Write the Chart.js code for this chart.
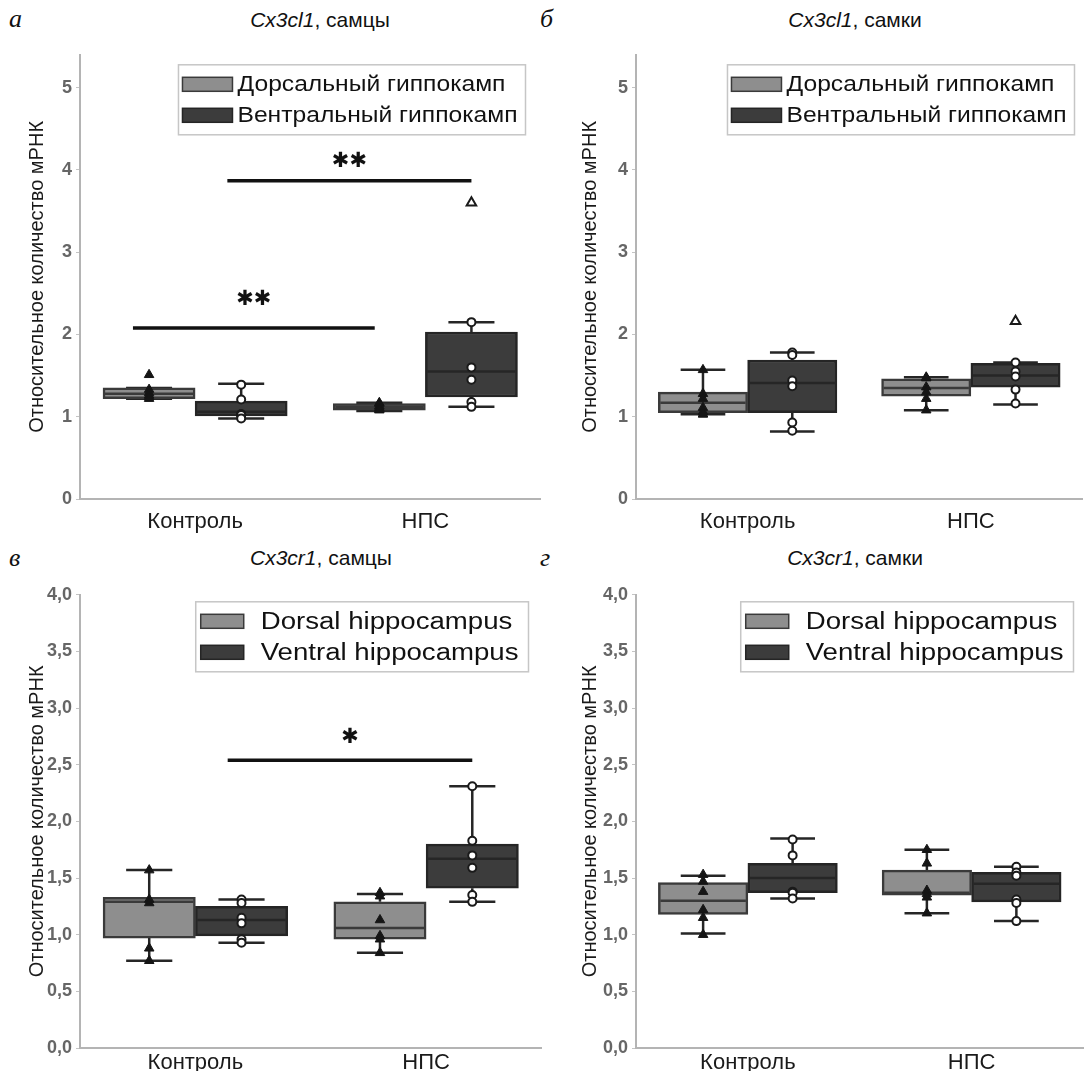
<!DOCTYPE html>
<html>
<head>
<meta charset="utf-8">
<script src="https://cdn.jsdelivr.net/npm/chart.js@4.4.1/dist/chart.umd.min.js"></script>
<style>
  body { margin: 0; background: #fff; width: 1090px; height: 1071px; position: relative; overflow: hidden; font-family: "Liberation Sans", Arial, sans-serif; }
  .panel { position: absolute; }
  .letter { position: absolute; font-family: "Liberation Serif", "DejaVu Serif", serif; font-style: italic; font-size: 26px; color: #111; line-height: 26px; }
  .title { position: absolute; font-size: 21px; color: #111; transform: translateX(-50%); white-space: nowrap; line-height: 24px; }
</style>
</head>
<body>
<div class="letter" style="left:9px;top:6px">а</div>
<div class="title" style="left:320px;top:8px"><i>Cx3cl1</i>, самцы</div>
<div class="letter" style="left:540px;top:6px">б</div>
<div class="title" style="left:855px;top:8px"><i>Cx3cl1</i>, самки</div>
<div class="letter" style="left:9px;top:545px">в</div>
<div class="title" style="left:321px;top:546px"><i>Cx3cr1</i>, самцы</div>
<div class="letter" style="left:540px;top:545px">г</div>
<div class="title" style="left:855px;top:546px"><i>Cx3cr1</i>, самки</div>

<div class="panel" style="left:0;top:40px;width:548px;height:505px"><canvas id="chartA"></canvas></div>
<div class="panel" style="left:553px;top:40px;width:537px;height:505px"><canvas id="chartB"></canvas></div>
<div class="panel" style="left:0;top:580px;width:548px;height:491px"><canvas id="chartC"></canvas></div>
<div class="panel" style="left:553px;top:580px;width:537px;height:491px"><canvas id="chartD"></canvas></div>

<script>
const categories = ['Контроль', 'НПС']
const legendRu = ['Дорсальный гиппокамп', 'Вентральный гиппокамп']
const legendEn = ['Dorsal hippocampus', 'Ventral hippocampus']
const yTicksTop = [0, 1, 2, 3, 4, 5]
const yTicksBottom = [0, 0.5, 1, 1.5, 2, 2.5, 3, 3.5, 4]

// box stats per category: [min, q1, median, q3, max]
// а: Cx3cl1, males
const aDorsalStats = [[1.22, 1.22, 1.28, 1.35, 1.35], [1.07, 1.08, 1.12, 1.16, 1.17]]
const aVentralStats = [[0.98, 1.01, 1.06, 1.19, 1.40], [1.12, 1.24, 1.55, 2.03, 2.15]]
const aDorsalPoints = [[1.33, 1.29, 1.26, 1.24, 1.22], [1.17, 1.16, 1.13, 1.11, 1.09, 1.08]]
const aVentralPoints = [[1.39, 1.21, 1.03, 1.03, 1.02, 0.98], [2.15, 1.60, 1.45, 1.18, 1.12]]
const aDorsalOutliers = [[1.51], []]
const aVentralOutliers = [[], [3.60]]
const aSigFrom = [-0.27, 0.14]
const aSigTo = [0.78, 1.2]
const aSigY = [2.08, 3.87]
const aSigTextY = [2.42, 4.1]
const aSigText = ['✱✱', '✱✱']

// б: Cx3cl1, females
const bDorsalStats = [[1.03, 1.05, 1.17, 1.30, 1.57], [1.08, 1.25, 1.35, 1.46, 1.48]]
const bVentralStats = [[0.82, 1.05, 1.41, 1.69, 1.78], [1.15, 1.36, 1.50, 1.65, 1.66]]
const bDorsalPoints = [[1.57, 1.28, 1.22, 1.11, 1.06, 1.03, 1.03], [1.48, 1.47, 1.36, 1.30, 1.22, 1.08]]
const bVentralPoints = [[1.78, 1.75, 1.44, 1.37, 0.93, 0.83], [1.66, 1.55, 1.49, 1.33, 1.16]]
const bDorsalOutliers = [[], []]
const bVentralOutliers = [[], [2.16]]

// в: Cx3cr1, males
const cDorsalStats = [[0.77, 0.97, 1.29, 1.33, 1.57], [0.84, 0.96, 1.06, 1.29, 1.36]]
const cVentralStats = [[0.93, 0.99, 1.13, 1.25, 1.31], [1.29, 1.41, 1.67, 1.80, 2.31]]
const cDorsalPoints = [[1.57, 1.31, 1.28, 0.88, 0.77], [1.37, 1.34, 1.13, 0.99, 0.96, 0.84]]
const cVentralPoints = [[1.31, 1.28, 1.15, 1.10, 0.96, 0.93], [2.31, 1.83, 1.70, 1.59, 1.35, 1.29]]
const cSigFrom = [0.14]
const cSigTo = [1.2]
const cSigY = [2.54]
const cSigTextY = [2.74]
const cSigText = ['✱']

// г: Cx3cr1, females
const dDorsalStats = [[1.01, 1.18, 1.30, 1.46, 1.52], [1.19, 1.35, 1.37, 1.57, 1.75]]
const dVentralStats = [[1.32, 1.37, 1.50, 1.63, 1.85], [1.12, 1.29, 1.45, 1.55, 1.60]]
const dDorsalPoints = [[1.53, 1.47, 1.38, 1.22, 1.15, 1.00], [1.75, 1.63, 1.39, 1.36, 1.33, 1.19]]
const dVentralPoints = [[1.84, 1.70, 1.38, 1.37, 1.32], [1.60, 1.55, 1.52, 1.31, 1.28, 1.12]]

const FONT = '"Liberation Sans", Arial, sans-serif'
const dorsalFill = '#8e8e8e'
const dorsalEdge = '#3a3a3a'
const ventralFill = '#3c3c3c'
const ventralEdge = '#252525'
const SHIFT = 0.2 // dodge of the two boxes around a category

function toPoints (groups, shift) {
  return groups.flatMap((vals, i) => vals.map(v => ({ x: i + shift, y: v })))
}

function toBoxes (stats, shift) {
  return stats.map((s, i) => ({ x: i + shift, y: [s[1], s[3]] }))
}

const boxParts = {
  id: 'boxParts',
  beforeDatasetDraw (chart, args) {
    if (args.meta.type !== 'bar') return
    const ds = chart.data.datasets[args.index]
    const y = chart.scales.y
    const ctx = chart.ctx
    ctx.save()
    ctx.strokeStyle = '#262626'
    ctx.lineWidth = 2.5
    args.meta.data.forEach((bar, i) => {
      const s = ds.stats[i]
      const cap = bar.width / 4
      ctx.beginPath()
      ctx.moveTo(bar.x, y.getPixelForValue(s[3]))
      ctx.lineTo(bar.x, y.getPixelForValue(s[4]))
      ctx.moveTo(bar.x, y.getPixelForValue(s[1]))
      ctx.lineTo(bar.x, y.getPixelForValue(s[0]))
      ctx.moveTo(bar.x - cap, y.getPixelForValue(s[4]))
      ctx.lineTo(bar.x + cap, y.getPixelForValue(s[4]))
      ctx.moveTo(bar.x - cap, y.getPixelForValue(s[0]))
      ctx.lineTo(bar.x + cap, y.getPixelForValue(s[0]))
      ctx.stroke()
    })
    ctx.restore()
  },
  afterDatasetDraw (chart, args) {
    if (args.meta.type !== 'bar') return
    const ds = chart.data.datasets[args.index]
    const y = chart.scales.y
    const ctx = chart.ctx
    ctx.save()
    ctx.strokeStyle = ds.medianColor
    ctx.lineWidth = 2.5
    args.meta.data.forEach((bar, i) => {
      const py = y.getPixelForValue(ds.stats[i][2])
      ctx.beginPath()
      ctx.moveTo(bar.x - bar.width / 2 + 2, py)
      ctx.lineTo(bar.x + bar.width / 2 - 2, py)
      ctx.stroke()
    })
    ctx.restore()
  },
  afterDraw (chart, args, opts) {
    const ctx = chart.ctx
    const x = chart.scales.x
    const y = chart.scales.y
    ctx.save()
    ;(opts.sig || []).forEach(s => {
      ctx.strokeStyle = '#111'
      ctx.lineWidth = 3.5
      ctx.beginPath()
      ctx.moveTo(x.getPixelForValue(s.from), y.getPixelForValue(s.y))
      ctx.lineTo(x.getPixelForValue(s.to), y.getPixelForValue(s.y))
      ctx.stroke()
      ctx.fillStyle = '#111'
      ctx.font = 'bold 21px "DejaVu Sans", sans-serif'
      ctx.textAlign = 'center'
      ctx.textBaseline = 'middle'
      ctx.fillText(s.text, x.getPixelForValue((s.from + s.to) / 2), y.getPixelForValue(s.textY))
    })
    const lg = opts.legend
    if (lg) {
      const area = chart.chartArea
      ctx.font = lg.size + 'px ' + FONT
      const tw = lg.stretch * Math.max.apply(null, lg.texts.map(t => ctx.measureText(t).width))
      const w = lg.padL + lg.patchW + lg.gap + tw + lg.padR
      const h = lg.rowH * 2 + lg.padV * 2
      const x0 = area.right - lg.right - w
      const y0 = area.top + lg.top
      ctx.fillStyle = '#fff'
      ctx.fillRect(x0, y0, w, h)
      ctx.strokeStyle = '#c6c6c6'
      ctx.lineWidth = 1.5
      ctx.strokeRect(x0, y0, w, h)
      const fills = [dorsalFill, ventralFill]
      const edges = [dorsalEdge, ventralEdge]
      lg.texts.forEach((t, i) => {
        const cy = y0 + lg.padV + lg.rowH * (i + 0.5)
        ctx.fillStyle = fills[i]
        ctx.fillRect(x0 + lg.padL, cy - 7, lg.patchW, 14)
        ctx.strokeStyle = edges[i]
        ctx.lineWidth = 1.5
        ctx.strokeRect(x0 + lg.padL, cy - 7, lg.patchW, 14)
        ctx.save()
        ctx.translate(x0 + lg.padL + lg.patchW + lg.gap, cy + 1)
        ctx.scale(lg.stretch, 1)
        ctx.fillStyle = '#111'
        ctx.textAlign = 'left'
        ctx.textBaseline = 'middle'
        ctx.fillText(t, 0, 0)
        ctx.restore()
      })
    }
    ctx.restore()
  }
}

function sigList (from, to, ys, textYs, texts) {
  return from.map((f, i) => ({ from: f, to: to[i], y: ys[i], textY: textYs[i], text: texts[i] }))
}

function makeChart (id, p) {
  const datasets = [
    {
      type: 'bar', label: p.legend[0], data: toBoxes(p.dStats, -SHIFT), stats: p.dStats,
      backgroundColor: dorsalFill, borderColor: dorsalEdge, borderWidth: 2.5, borderSkipped: false,
      medianColor: '#3a3a3a', grouped: false, categoryPercentage: 1, barPercentage: 1, order: 3
    },
    {
      type: 'bar', label: p.legend[1], data: toBoxes(p.vStats, SHIFT), stats: p.vStats,
      backgroundColor: ventralFill, borderColor: ventralEdge, borderWidth: 2.5, borderSkipped: false,
      medianColor: '#262626', grouped: false, categoryPercentage: 1, barPercentage: 1, order: 3
    },
    {
      type: 'scatter', data: toPoints(p.dPoints, -SHIFT).concat(toPoints(p.dOut || [[], []], -SHIFT)),
      pointStyle: 'triangle', pointRadius: 5.5, backgroundColor: '#151515', borderColor: '#151515', borderWidth: 1, order: 1
    },
    {
      type: 'scatter', data: toPoints(p.vPoints, SHIFT),
      pointStyle: 'circle', pointRadius: 4, backgroundColor: '#fff', borderColor: '#1a1a1a', borderWidth: 2, order: 1
    },
    {
      type: 'scatter', data: toPoints(p.vOut || [[], []], SHIFT),
      pointStyle: 'triangle', pointRadius: 5.5, backgroundColor: '#fff', borderColor: '#1a1a1a', borderWidth: 2, order: 1
    }
  ]
  return new Chart(document.getElementById(id), {
    type: 'bar',
    data: { datasets: datasets },
    options: {
      responsive: true,
      maintainAspectRatio: false,
      animation: false,
      layout: { padding: { top: p.padTop, right: p.padRight, left: 0, bottom: 0 } },
      plugins: {
        legend: { display: false },
        tooltip: { enabled: false },
        boxParts: { sig: p.sig, legend: p.lg }
      },
      scales: {
        x: {
          type: 'linear',
          min: -0.5,
          max: 1.5,
          offset: false,
          afterBuildTicks: s => { s.ticks = categories.map((c, i) => ({ value: i })) },
          afterFit: s => { s.height = p.xHeight },
          ticks: { font: { size: 22, family: FONT }, color: '#1a1a1a', padding: p.xPad, callback: v => categories[v] },
          grid: { display: false, drawTicks: false, offset: false },
          border: { display: true, color: '#b4b4b4', width: 2 }
        },
        y: {
          min: 0,
          max: p.yMax,
          afterBuildTicks: s => { s.ticks = p.yTicks.map(v => ({ value: v })) },
          afterFit: s => { s.width = p.yWidth },
          ticks: { font: { size: 18, weight: 'bold', family: FONT }, color: '#666', padding: 4, callback: p.fmt },
          grid: { display: true, drawOnChartArea: false, tickLength: 4, color: '#c4c4c4', lineWidth: 1 },
          border: { display: true, color: '#b4b4b4', width: 2 },
          title: {
            display: true, text: 'Относительное количество мРНК',
            font: { size: 20, family: FONT }, color: '#1a1a1a', padding: { top: 25, bottom: 0 }
          }
        }
      }
    },
    plugins: [boxParts]
  })
}

const intFmt = v => String(v)
const commaFmt = v => Number(v).toFixed(1).replace('.', ',')
const lgRu = { texts: legendRu, size: 22, stretch: 1.12, padL: 4, patchW: 50, gap: 5, padR: 8, padV: 4, rowH: 31, top: 10 }
const lgEn = { texts: legendEn, size: 23, stretch: 1.2, padL: 5, patchW: 43, gap: 17, padR: 10, padV: 4, rowH: 31, top: 7 }

makeChart('chartA', {
  legend: legendRu, dStats: aDorsalStats, vStats: aVentralStats, dPoints: aDorsalPoints, vPoints: aVentralPoints,
  dOut: aDorsalOutliers, vOut: aVentralOutliers, sig: sigList(aSigFrom, aSigTo, aSigY, aSigTextY, aSigText),
  yMax: 5.4, yTicks: yTicksTop, fmt: intFmt, yWidth: 80, padTop: 10, padRight: 3, xHeight: 46, xPad: 10,
  lg: Object.assign({ right: 15 }, lgRu)
})
makeChart('chartB', {
  legend: legendRu, dStats: bDorsalStats, vStats: bVentralStats, dPoints: bDorsalPoints, vPoints: bVentralPoints,
  dOut: bDorsalOutliers, vOut: bVentralOutliers, sig: [],
  yMax: 5.4, yTicks: yTicksTop, fmt: intFmt, yWidth: 83, padTop: 10, padRight: 0, xHeight: 46, xPad: 10,
  lg: Object.assign({ right: 8 }, lgRu)
})
makeChart('chartC', {
  legend: legendEn, dStats: cDorsalStats, vStats: cVentralStats, dPoints: cDorsalPoints, vPoints: cVentralPoints,
  sig: sigList(cSigFrom, cSigTo, cSigY, cSigTextY, cSigText),
  yMax: 4, yTicks: yTicksBottom, fmt: commaFmt, yWidth: 80, padTop: 13, padRight: 3, xHeight: 23, xPad: 2,
  lg: Object.assign({ right: 13 }, lgEn)
})
makeChart('chartD', {
  legend: legendEn, dStats: dDorsalStats, vStats: dVentralStats, dPoints: dDorsalPoints, vPoints: dVentralPoints,
  sig: [],
  yMax: 4, yTicks: yTicksBottom, fmt: commaFmt, yWidth: 83, padTop: 13, padRight: 0, xHeight: 23, xPad: 2,
  lg: Object.assign({ right: 10 }, lgEn)
})
</script>
</body>
</html>
